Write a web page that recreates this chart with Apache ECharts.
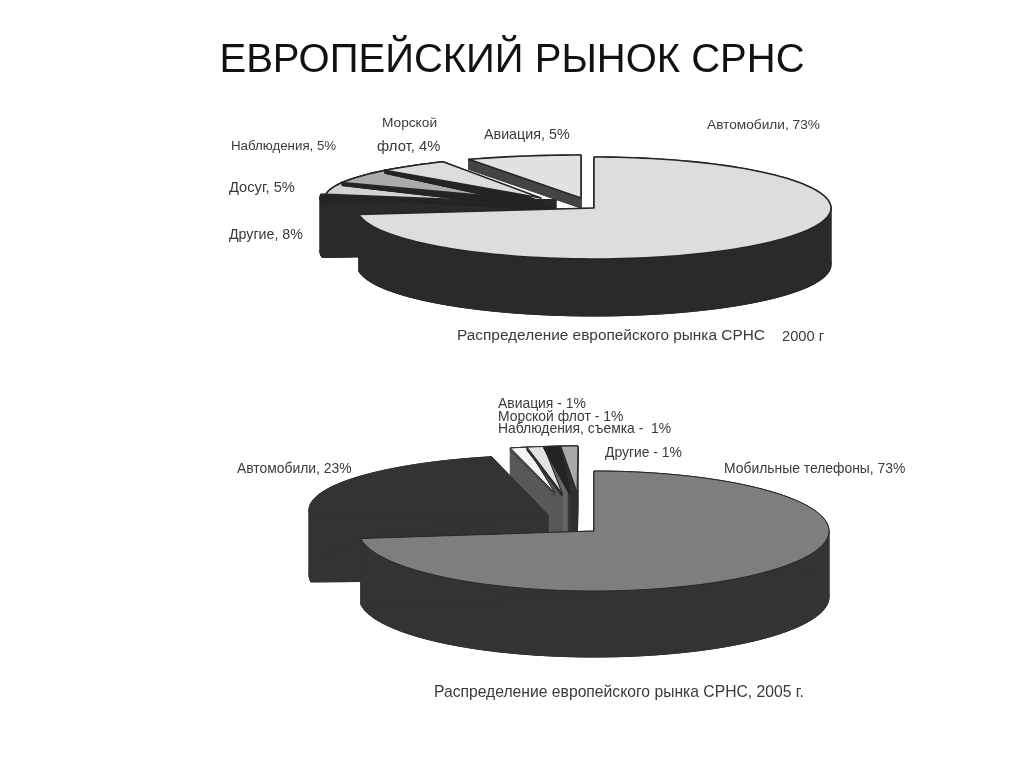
<!DOCTYPE html>
<html>
<head>
<meta charset="utf-8">
<style>html,body{margin:0;padding:0;background:#fff}#c{width:1024px;height:767px}</style>
<script src="https://cdn.jsdelivr.net/npm/echarts@6/dist/echarts.min.js"></script>
</head>
<body>
<div id="c"></div>
<script>
// ---- data ----
const chartTitle = 'ЕВРОПЕЙСКИЙ РЫНОК СРНС';
const categories2000 = ['Автомобили', 'Другие', 'Досуг', 'Наблюдения', 'Морской флот', 'Авиация'];
const printedPct2000 = [73, 8, 5, 5, 4, 5];
// sweep of each slice as actually drawn (degrees, clockwise from 12 o'clock; the drawing does not follow the printed % exactly)
const drawnSweep2000 = [262.8, 12.2, 16, 19, 17.4, 6.6, 26];  // entry 5 is the empty gap before Авиация
const categories2005 = ['Мобильные телефоны', 'Автомобили', 'Авиация', 'Морской флот', 'Наблюдения, съемка', 'Другие'];
const printedPct2005 = [73, 23, 1, 1, 1, 1];
const caption2000 = 'Распределение европейского рынка СРНС';
const captionYear2000 = '2000 г';
const caption2005 = 'Распределение европейского рынка СРНС, 2005 г.';

// ---- build angle ranges ----
function ranges(sw){let a=0;return sw.map(s=>{const r=[a,a+s];a+=s;return r;});}
const r2000 = ranges(drawnSweep2000);
const r2005 = ranges(printedPct2005.map(p=>p*3.6));

// ---- drawing styles (ellipse, apex, depth, colours) ----
const EDGE = '#262626';
const rim1 = {cx:581,cy:198,rx:256,ry:43};
const rim1a = {cx:581,cy:198,rx:261,ry:43};
const rim2 = {cx:578,cy:510,rx:272,ry:64};
const rim2a = {cx:552,cy:510,rx:243,ry:55};
const DK='#242424';
const styles2000 = [ // draw order: back to front
  {i:1,rim:rim1a,ax:556,ay:200,d:54,top:DK,side:'#2a2a2a'},
  {i:2,rim:rim1,ax:553,ay:207,d:3,top:DK,side:DK},
  {i:2,rim:rim1,ax:520,ay:202,d:0,top:'#d2d2d2',side:DK},
  {i:3,rim:rim1,ax:553,ay:207,d:3,top:DK,side:DK},
  {i:3,rim:rim1,ax:533,ay:200,d:0,top:'#ababab',side:DK},
  {i:4,rim:rim1,ax:553,ay:207,d:3,top:DK,side:DK},
  {i:4,rim:rim1,ax:541,ay:198,d:0,top:'#dcdcdc',side:DK},
  {i:6,rim:rim1,ax:581,ay:198,d:10,top:'#e2e2e2',side:'#444444'},
  {i:0,rim:{cx:594,cy:208,rx:237,ry:51},ax:594,ay:208,d:57,top:'#dddddd',side:'#2a2a2a'}
];
const styles2005 = [
  // column blocks under the four small slices
  {i:5,rim:rim2,ax:577,ay:492,d:60,top:'#2e2e2e',side:'#2e2e2e',lw:0},
  {i:4,rim:rim2,ax:570,ay:492,d:60,top:'#363636',side:'#363636',lw:0},
  {i:3,rim:rim2,ax:567,ay:492,d:60,top:'#666666',side:'#666666',lw:0},
  {i:2,rim:rim2,ax:562,ay:492,d:60,top:'#585858',side:'#585858',lw:0},
  // small slices, right one last
  {i:2,rim:rim2,ax:555,ay:493,d:3,top:'#f4f4f4',side:'#4c4c4c',lw:1},
  {i:3,rim:rim2,ax:562,ay:493,d:3,top:'#e2e2e2',side:'#2e2e2e',lw:1},
  {i:4,rim:rim2,ax:570,ay:493,d:2,top:'#232323',side:'#232323',lw:1},
  {i:5,rim:rim2,ax:577,ay:492,d:2,top:'#a9a9a9',side:'#303030',lw:1},
  {i:1,rim:rim2a,ax:548,ay:515,d:65,top:'#333333',side:'#333333',lw:0},
  {i:0,rim:{cx:594,cy:531,rx:235,ry:60},ax:594,ay:531,d:66,top:'#7e7e7e',side:'#333333',lw:1}
];

function wedge(s,a0,a1){
  const pts=[[s.ax,s.ay]],R=s.rim,n=Math.max(2,Math.ceil((a1-a0)/2));
  for(let k=0;k<=n;k++){
    const t=(a0+(a1-a0)*k/n)*Math.PI/180;
    pts.push([R.cx+R.rx*Math.sin(t),R.cy-R.ry*Math.cos(t)]);
  }
  return pts;
}
// split an arc into runs that move in one x direction, so each wall is a simple polygon
function monotoneRuns(arc){
  const runs=[];let cur=[arc[0]],dir=0;
  for(let k=1;k<arc.length;k++){
    const sgn=Math.sign(arc[k][0]-arc[k-1][0]);
    if(dir&&sgn&&sgn!==dir){runs.push(cur);cur=[arc[k-1]];}
    if(sgn)dir=sgn;
    cur.push(arc[k]);
  }
  runs.push(cur);
  return runs;
}
function makeRender(styles,rng){
  return function(params,api){
    const s=styles[api.value(0)],r=rng[s.i],pts=wedge(s,r[0],r[1]),children=[];
    const st={fill:s.side,stroke:s.side,lineWidth:1};
    if(s.d>0){
      const n=pts.length,shift=p=>[p[0],p[1]+s.d];
      monotoneRuns(pts.slice(1)).forEach(run=>{
        children.push({type:'polygon',silent:true,shape:{points:run.concat(run.slice().reverse().map(shift))},style:st});
      });
      [[pts[0],pts[1]],[pts[n-1],pts[0]]].forEach(e=>{
        children.push({type:'polygon',silent:true,shape:{points:[e[0],e[1],shift(e[1]),shift(e[0])]},style:st});
      });
      children.push({type:'polygon',silent:true,shape:{points:pts.map(shift)},style:st});
    }
    const lw=s.lw===undefined?1.6:s.lw;
    children.push({type:'polygon',silent:true,shape:{points:pts},
      style:{fill:s.top,stroke:lw?EDGE:s.top,lineWidth:lw||1,lineJoin:'round'}});
    return {type:'group',children};
  };
}

const labelFont='"Liberation Sans",Arial,sans-serif';
const T=(text,x,y,size)=>({type:'text',silent:true,x,y,
  style:{text,fill:'#3a3a3a',font:size+'px '+labelFont,textVerticalAlign:'middle',textBaseline:'middle'}});
const c=categories2000,p=printedPct2000,d=categories2005,q=printedPct2005;
const texts=[
  T(c[0]+', '+p[0]+'%',707,125,13.7),
  T(c[5]+', '+p[5]+'%',484,135,14.3),
  T(c[4].split(' ')[0],382,123,13.7),
  T(c[4].split(' ')[1]+', '+p[4]+'%',377,147,14.8),
  T(c[3]+', '+p[3]+'%',231,146,13.3),
  T(c[2]+', '+p[2]+'%',229,188,14.7),
  T(c[1]+', '+p[1]+'%',229,235,14.2),
  T(caption2000,457,336,15.4),
  T(captionYear2000,782,337,14.7),
  T(d[2]+' - '+q[2]+'%',498,404,13.9),
  T(d[3]+' - '+q[3]+'%',498,417,13.9),
  T(d[4]+' -  '+q[4]+'%',498,429,13.9),
  T(d[5]+' - '+q[5]+'%',605,453,13.9),
  T(d[1]+', '+q[1]+'%',237,469,13.9),
  T(d[0]+', '+q[0]+'%',724,469,13.9),
  T(caption2005,434,693,15.7),
  {type:'text',silent:true,x:512,y:61,style:{text:chartTitle,fill:'#111',font:'40px '+labelFont,textAlign:'center',textVerticalAlign:'middle',textBaseline:'middle'}}
];

const chart=echarts.init(document.getElementById('c'),null,{renderer:'canvas'});
chart.setOption({
  animation:false,
  backgroundColor:'#fff',
  tooltip:{show:false},
  graphic:texts,
  series:[
    {type:'custom',coordinateSystem:'none',silent:true,renderItem:makeRender(styles2000,r2000),data:styles2000.map((_,k)=>[k])},
    {type:'custom',coordinateSystem:'none',silent:true,renderItem:makeRender(styles2005,r2005),data:styles2005.map((_,k)=>[k])}
  ]
});
</script>
</body>
</html>
